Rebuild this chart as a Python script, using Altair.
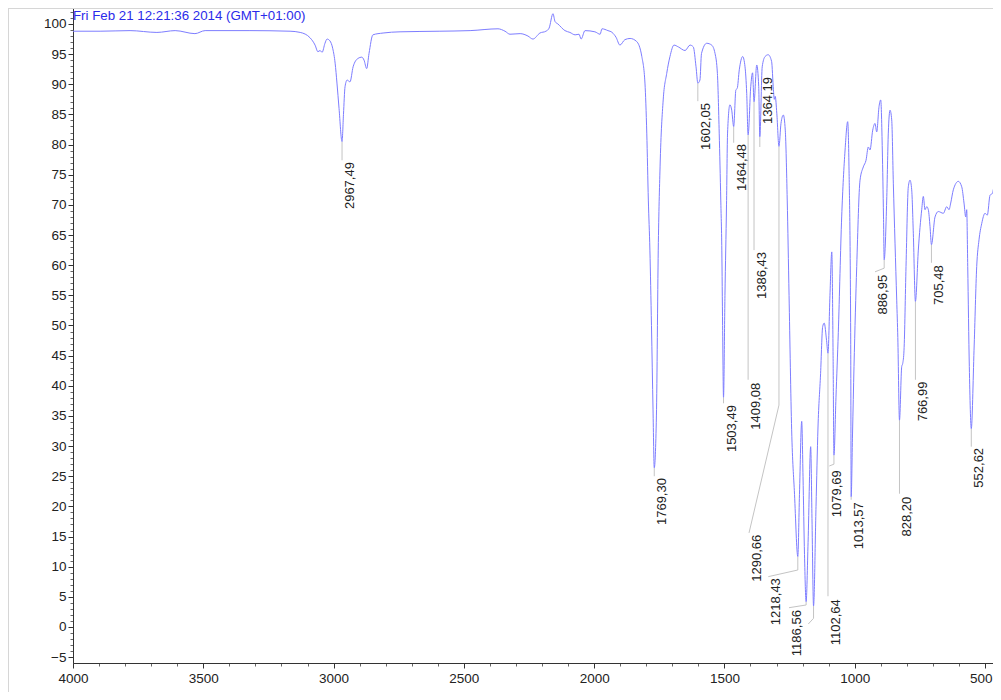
import altair as alt
import pandas as pd

FONT = "Liberation Sans"
title_text = "Fri Feb 21 12:21:36 2014 (GMT+01:00)"

# IR spectrum: wavenumber (cm-1) and %T
wavenumber = [
    4000, 3896, 3781, 3678, 3608, 3532, 3493, 3321, 3167, 3128, 3090, 3071, 3060, 3052, 3044, 3033,
    3025, 3014, 3003, 2994, 2987, 2979, 2967.5, 2962, 2956, 2948, 2937, 2925, 2906, 2892, 2883, 2873,
    2864, 2849, 2810, 2745, 2592, 2476, 2369, 2342, 2323, 2284, 2254, 2235, 2208, 2185, 2173, 2158,
    2150, 2139, 2112, 2093, 2073, 2058, 2050, 2035, 1997, 1977, 1970, 1947, 1931, 1916, 1901, 1882,
    1862, 1837, 1817, 1805, 1798, 1792, 1786, 1780, 1774, 1769.3, 1761, 1754, 1747, 1735, 1721.5, 1709,
    1693.5, 1677, 1651, 1632, 1619.5, 1609, 1602.05, 1594, 1588, 1568, 1549, 1536, 1527, 1520, 1514, 1510,
    1507, 1503.5, 1498, 1492, 1488, 1479, 1472, 1464.5, 1456, 1451, 1443, 1430, 1421, 1414.5, 1409.1, 1399,
    1392, 1386.4, 1376, 1368.4, 1364.2, 1355, 1344, 1332, 1319, 1312, 1308.6, 1305, 1299, 1290.7, 1283, 1274,
    1266.5, 1259, 1252, 1242, 1231, 1218.4, 1212, 1203.4, 1198.4, 1192.7, 1186.5, 1179, 1169, 1164, 1158, 1148.5,
    1141, 1131, 1123, 1117, 1108, 1102.6, 1095, 1088, 1083, 1079.7, 1072, 1063, 1050, 1037, 1027, 1022,
    1015.5, 1013.6, 1008.4, 1002.7, 992.3, 979.6, 967, 956.6, 947.8, 941.3, 930.9, 922.1, 915.6, 906.7, 900.2, 894.1,
    889.5, 886.95, 877.2, 871.1, 864.5, 858, 851.8, 838.8, 834.6, 828.2, 819.6, 815.8, 810.8, 803.1, 794.3, 787.8,
    781.3, 775.1, 767.0, 755.9, 742.9, 736.7, 730.2, 723.7, 717.5, 711.0, 705.5, 691.8, 679.1, 659.9, 646.9, 638.1,
    631.6, 621.6, 602.4, 589.3, 580.5, 574, 570.2, 566.3, 560.2, 552.6, 542.1, 531.8, 523, 512.6, 500, 491.1,
    480.7, 471.9, 461.5, 448.9, 439.7,
]
transmittance = [
    98.8, 98.8, 98.9, 98.6, 98.9, 98.4, 98.9, 98.9, 98.8, 98.6, 97.7, 96.5, 95.4, 95.6, 95.3, 96.8,
    97.5, 97.2, 95.9, 93.5, 90.2, 86.0, 80.5, 85.0, 89.6, 90.7, 90.4, 92.9, 94.3, 94.5, 94.0, 92.6,
    95.1, 98.2, 98.5, 98.7, 98.8, 98.9, 99.2, 98.8, 98.3, 98.4, 98.0, 97.5, 98.5, 98.8, 99.3, 101.7,
    100.4, 100.0, 98.9, 98.6, 98.2, 98.3, 97.5, 98.9, 98.7, 98.3, 99.2, 98.9, 98.6, 97.8, 96.5, 97.4,
    97.6, 97.1, 94.6, 90.2, 81.9, 70.8, 62.5, 50.0, 36.0, 26.4, 35.0, 62.5, 76.3, 87.4, 91.8, 94.6,
    96.5, 96.2, 95.6, 96.5, 96.2, 92.9, 90.2, 90.7, 95.1, 96.8, 96.5, 95.1, 91.8, 81.9, 70.8, 62.5,
    50.0, 38.1, 55.0, 70.0, 81.9, 86.6, 85.7, 83.0, 89.1, 89.3, 92.4, 94.6, 92.9, 88.5, 81.6, 89.6,
    91.9, 87.1, 93.2, 89.6, 81.3, 92.9, 94.6, 94.9, 93.8, 89.1, 87.5, 88.0, 85.2, 79.7, 83.5, 84.9,
    82.4, 70.8, 55.0, 32.7, 22.0, 11.7, 22.0, 34.1, 25.0, 12.0, 4.2, 14.0, 29.9, 18.0, 3.5, 20.0,
    33.0, 42.0, 49.8, 50.4, 47.5, 45.4, 55.0, 62.2, 45.0, 28.5, 38.0, 48.8, 68.0, 79.1, 83.8, 76.3,
    48.8, 21.6, 32.0, 43.2, 59.8, 74.1, 76.3, 77.4, 79.6, 79.1, 82.4, 83.5, 82.1, 86.3, 87.4, 79.1,
    68.0, 60.9, 70.8, 81.9, 85.7, 84.1, 73.6, 54.2, 48.0, 34.3, 43.2, 43.7, 45.9, 59.8, 73.0, 74.1,
    72.5, 65.3, 54.0, 62.5, 69.2, 71.4, 69.2, 69.7, 69.2, 66.4, 63.4, 68.0, 68.9, 68.6, 69.7, 69.2,
    70.3, 72.5, 73.9, 73.0, 70.3, 68.0, 69.2, 59.8, 43.2, 32.9, 45.9, 59.8, 64.2, 66.9, 68.6, 68.3,
    71.6, 71.9, 74.1, 75.5, 74.1,
]

# Peak labels: text, anchor (top end of the rotated label)
label_text = ["2967,49", "1769,30", "1602,05", "1503,49", "1464,48", "1409,08", "1386,43",
              "1364,19", "1290,66", "1218,43", "1186,56", "1102,64", "1079,69", "1013,57",
              "886,95", "828,20", "766,99", "705,48", "552,62"]
label_wn = [2967.5, 1769.3, 1602.05, 1503.5, 1464.5, 1409.1, 1386.4, 1364.2, 1405.6, 1331.6,
            1252.1, 1102.6, 1097.5, 1013.6, 922.1, 828.2, 767.0, 705.5, 552.6]
label_T = [77.1, 24.7, 86.9, 36.8, 80.1, 40.5, 62.2, 91.2, 15.3, 8.1, 2.8, 4.6, 26.0, 20.7,
           58.4, 21.6, 40.7, 60.0, 29.7]

# Leader lines from each peak to its label
leader_paths = [
    [(2967.5, 80.5), (2967.5, 77.4)],
    [(1769.3, 26.4), (1769.3, 25.0)],
    [(1602.05, 90.2), (1602.05, 87.2)],
    [(1503.5, 38.1), (1503.5, 37.1)],
    [(1464.5, 83.0), (1464.5, 80.3)],
    [(1409.1, 81.6), (1409.1, 41.0)],
    [(1386.4, 87.1), (1386.4, 62.5)],
    [(1364.2, 81.3), (1364.2, 79.6)],
    [(1290.7, 79.7), (1290.7, 36.8), (1405.6, 15.6)],
    [(1218.4, 11.7), (1218.4, 9.45), (1331.6, 8.35)],
    [(1186.5, 4.2), (1186.5, 3.65), (1252.1, 3.2)],
    [(1158.0, 3.5), (1158.0, 1.44), (1178.1, 0.5)],
    [(1102.6, 45.4), (1102.6, 5.1)],
    [(1079.7, 28.5), (1079.7, 27.0), (1097.5, 26.7)],
    [(1013.6, 21.6), (1013.6, 21.1)],
    [(886.95, 60.9), (886.95, 59.5), (922.1, 58.9)],
    [(828.2, 34.3), (828.2, 22.1)],
    [(767.0, 54.0), (767.0, 41.0)],
    [(705.5, 63.4), (705.5, 60.4)],
    [(552.6, 32.9), (552.6, 29.9)],
]

x_major = [4000, 3500, 3000, 2500, 2000, 1500, 1000, 500]
x_minor = list(range(500, 4001, 100))
y_major = list(range(-5, 101, 5))
y_minor = list(range(-6, 103))

spec = pd.DataFrame({"wn": wavenumber, "T": transmittance})
labels = pd.DataFrame({"text": label_text, "wn": label_wn, "T": label_T})
leader_rows = []
for i, path in enumerate(leader_paths):
    for j, (w, t) in enumerate(path):
        leader_rows.append({"id": i, "seq": j, "wn": w, "T": t})
leaders = pd.DataFrame(leader_rows)

W, H = 920, 655
x_scale = alt.Scale(domain=[469.3, 4000], reverse=True, nice=False, zero=False)
y_scale = alt.Scale(domain=[-5.97, 102.65], nice=False, zero=False)

axis_common = dict(title=None, grid=False, labelFont=FONT, labelFontSize=13.5, labelColor="#222",
                   domainColor="#333", tickColor="#333", tickSize=5, labelOverlap=False,
                   labelFlush=False, labelBound=False, format="d")

x_axis = alt.Axis(
    values=x_major, orient="bottom", labelPadding=3,
    labelAlign=alt.condition("datum.value == 500", alt.value("right"), alt.value("center")),
    labelOffset=alt.condition("datum.value == 500", alt.value(7), alt.value(0)),
    **axis_common,
)

line = alt.Chart(spec).mark_line(color="#7d7dff", strokeWidth=1, interpolate="monotone", clip=True).encode(
    x=alt.X("wn:Q", scale=x_scale, axis=x_axis),
    y=alt.Y("T:Q", scale=y_scale, axis=alt.Axis(values=y_major, orient="left", labelPadding=2, **axis_common)),
    order=alt.Order("wn:Q", sort="descending"),
)

minor_axis = dict(title=None, grid=False, labels=False, domain=False, tickSize=3, tickColor="#666")
lead = alt.Chart(leaders).mark_line(color="#c4c4c4", strokeWidth=1).encode(
    x=alt.X("wn:Q", scale=x_scale, axis=alt.Axis(values=x_minor, orient="bottom", **minor_axis)),
    y=alt.Y("T:Q", scale=y_scale, axis=alt.Axis(values=y_minor, orient="left", **minor_axis)),
    detail="id:N",
    order="seq:Q",
)

text = alt.Chart(labels).mark_text(angle=270, align="right", baseline="top", dy=2,
                                   font=FONT, fontSize=13, color="#222").encode(
    x=alt.X("wn:Q", scale=x_scale, axis=None),
    y=alt.Y("T:Q", scale=y_scale, axis=None),
    text="text:N",
)

title = alt.Chart(alt.Data(values=[{"t": title_text}])).mark_text(
    align="left", baseline="alphabetic", font=FONT, fontSize=13.3, color="#2b2bea").encode(
    x=alt.value(0), y=alt.value(12), text="t:N")

frame_left = alt.Chart(alt.Data(values=[{"a": 1}])).mark_rule(color="#d6d6d6", strokeWidth=1).encode(
    x=alt.value(-64.5), y=alt.value(0), y2=alt.value(H + 40))
frame_top = alt.Chart(alt.Data(values=[{"a": 1}])).mark_rule(color="#d6d6d6", strokeWidth=1).encode(
    x=alt.value(-65), x2=alt.value(W), y=alt.value(0.5))

chart = alt.layer(frame_left, frame_top, lead, line, text, title).resolve_axis(
    x="independent", y="independent"
).properties(
    width=W, height=H,
    autosize=alt.AutoSizeParams(type="none"),
    padding={"left": 65, "top": 0, "right": 0, "bottom": 29},
).configure_view(stroke=None).configure(background="white")

chart.save("out.html", embed_options={"renderer": "svg", "actions": False})
